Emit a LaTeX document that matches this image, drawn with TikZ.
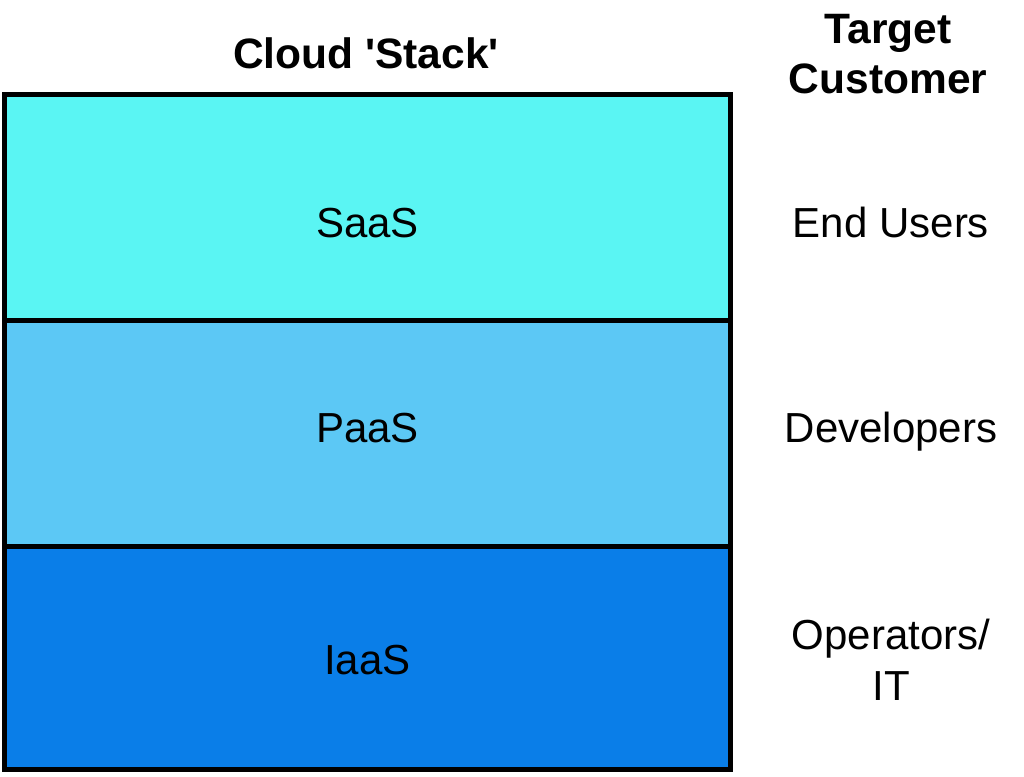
\documentclass[tikz,border=0pt]{standalone}
\usepackage{fontspec}
\setmainfont{Liberation Sans}
\definecolor{saascol}{RGB}{90,245,243}
\definecolor{paascol}{RGB}{92,200,245}
\definecolor{iaascol}{RGB}{10,126,232}
\tikzset{
  layertext/.style={font=\fontsize{42}{51}\selectfont, anchor=base, align=center},
  headtext/.style={font=\bfseries\fontsize{42.5}{50}\selectfont, anchor=base, align=center},
  stackline/.style={line width=5pt, line join=miter},
}

\begin{document}
\begin{tikzpicture}[x=1pt,y=-1pt]
      \useasboundingbox (0,0) rectangle (1024,776);

      % layers of the stack
      \fill[saascol] (4.5,94.5) rectangle (730.5,320);
      \fill[paascol] (4.5,320) rectangle (730.5,546);
      \fill[iaascol] (4.5,546) rectangle (730.5,769);
      \draw[stackline] (4.5,94.5) rectangle (730.5,769);
      \draw[stackline] (4.5,320) -- (730.5,320);
      \draw[stackline] (4.5,546) -- (730.5,546);

      % headings (base = last line)
      \node[headtext] (stack) at (366,68) {Cloud \textquotesingle Stack\textquotesingle};
      \node[headtext] (target) at (888,93) {Target\\Customer};

      % layer names
      \node[layertext] (saas) at (367.5,237) {SaaS};
      \node[layertext] (paas) at (367.5,442) {PaaS};
      \node[layertext] (iaas) at (367.5,674) {IaaS};

      % customers
      \node[layertext] (users) at (891,237) {End Users};
      \node[layertext] (devs) at (891,442) {Developers};
      \node[layertext] (ops) at (891,700) {Operators/\\IT};
    \end{tikzpicture}
\end{document}
